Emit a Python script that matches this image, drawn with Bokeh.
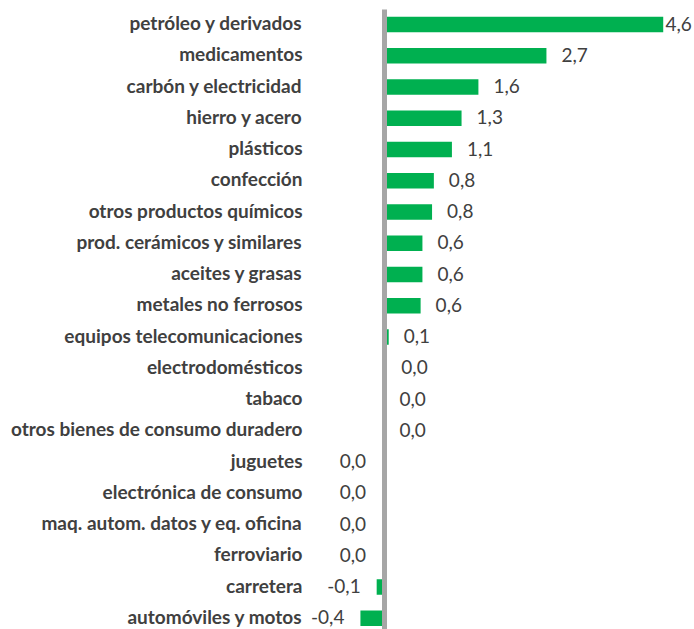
from bokeh.plotting import figure
from bokeh.models import ColumnDataSource, Range1d
from bokeh.core.properties import value
from bokeh.embed import file_html
from bokeh.resources import INLINE

categories = [
    "petróleo y derivados", "medicamentos", "carbón y electricidad", "hierro y acero",
    "plásticos", "confección", "otros productos químicos", "prod. cerámicos y similares",
    "aceites y grasas", "metales no ferrosos", "equipos telecomunicaciones",
    "electrodomésticos", "tabaco", "otros bienes de consumo duradero", "juguetes",
    "electrónica de consumo", "maq. autom. datos y eq. oficina", "ferroviario",
    "carretera", "automóviles y motos",
]
values = [4.63, 2.69, 1.56, 1.28, 1.12, 0.82, 0.79, 0.63, 0.63, 0.60,
          0.07, 0.03, 0.0, 0.0, -0.04, -0.04, -0.04, -0.04, -0.13, -0.40]
value_labels = ["4,6", "2,7", "1,6", "1,3", "1,1", "0,8", "0,8", "0,6", "0,6", "0,6",
                "0,1", "0,0", "0,0", "0,0", "0,0", "0,0", "0,0", "0,0", "-0,1", "-0,4"]

# layout constants (pixels)
W, H = 694, 629
ZERO_PX = 384.0      # frame x of value 0
SCALE = 60.2         # px per unit
ROW = 31.25          # px per category row
TOP = 24.0           # frame y of first row centre
LABEL_RIGHT = 302.0  # frame x where category labels end
AREA_RIGHT = 692.0   # right edge of chart area
LBL_W = 27.0

rows = list(range(len(categories)))
src = ColumnDataSource(dict(y=rows, v=values, cat=categories))

pos_idx = [i for i, v in enumerate(values) if v >= 0]
neg_idx = [i for i, v in enumerate(values) if v < 0]


def pos_off(v):
    end_px = ZERO_PX + v * SCALE
    return min(15.0, AREA_RIGHT - LBL_W - end_px)


pos_src = ColumnDataSource(dict(
    y=[rows[i] for i in pos_idx], v=[values[i] for i in pos_idx],
    t=[value_labels[i] for i in pos_idx], xo=[pos_off(values[i]) for i in pos_idx]))
neg_src = ColumnDataSource(dict(
    y=[rows[i] for i in neg_idx], v=[values[i] for i in neg_idx],
    t=[value_labels[i] for i in neg_idx]))

p = figure(width=W, height=H, output_backend="svg", toolbar_location=None,
           x_range=Range1d(-ZERO_PX / SCALE, (W - ZERO_PX) / SCALE),
           y_range=Range1d((H - TOP) / ROW, -TOP / ROW),
           min_border=0)
p.xaxis.visible = False
p.yaxis.visible = False
p.xgrid.visible = False
p.ygrid.visible = False
p.outline_line_color = None
p.background_fill_color = "white"
p.border_fill_color = "white"

p.hbar(y="y", left=0, right="v", height=15.5 / ROW, source=src,
       fill_color="#00B050", line_color=None)

# vertical axis line at zero
p.segment(x0=[0], y0=[(9 - TOP) / ROW], x1=[0], y1=[(H + 10 - TOP) / ROW],
          line_color="#A6A6A6", line_width=5)

p.text(x=(LABEL_RIGHT - ZERO_PX) / SCALE, y="y", text="cat", source=src,
       y_offset=-2, text_align="right", text_baseline="middle",
       text_font=value("Lato"), text_font_style="bold", text_font_size="19px",
       text_color="#404040")

p.text(x="v", y="y", text="t", x_offset="xo", y_offset=-1, source=pos_src,
       text_align="left", text_baseline="middle",
       text_font=value("Lato"), text_font_size="19px", text_color="#404040")
p.text(x="v", y="y", text="t", x_offset=-16, y_offset=-1, source=neg_src,
       text_align="right", text_baseline="middle",
       text_font=value("Lato"), text_font_size="19px", text_color="#404040")

open("out.html", "w").write(file_html(p, INLINE))
